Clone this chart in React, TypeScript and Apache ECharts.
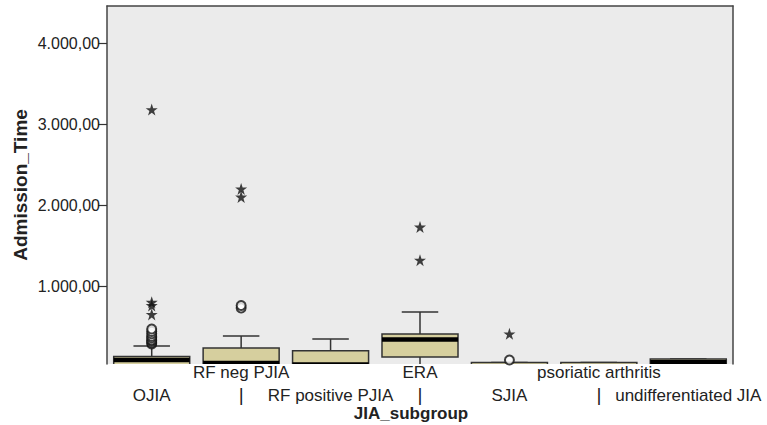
import React, { useEffect, useRef } from "react";
import * as echarts from "echarts";

const categories = [
  "OJIA",
  "RF neg PJIA",
  "RF positive PJIA",
  "ERA",
  "SJIA",
  "psoriatic arthritis",
  "undifferentiated JIA",
];

// [lower whisker, Q1, median, Q3, upper whisker]
const boxStats = [
  [0, 0, 85, 130, 259],
  [0, 0, 50, 235, 383],
  [0, 0, 30, 200, 345],
  [0, 123, 340, 408, 680],
  [0, 0, 0, 55, 55],
  [0, 0, 0, 55, 55],
  [0, 0, 60, 100, 100],
];

// outliers: [category index, value]
const circleOutliers = [
  [0, 285], [0, 300], [0, 320], [0, 335], [0, 360], [0, 380], [0, 410], [0, 440], [0, 470],
  [1, 730], [1, 760],
  [4, 86],
];
const starOutliers = [
  [0, 650], [0, 760], [0, 800], [0, 3180],
  [1, 2100], [1, 2200],
  [3, 1320], [3, 1730],
  [4, 410],
];

const yTicks = [1000, 2000, 3000, 4000];

const STAR = "path://M12,0 L14.8,8.6 L23.4,8.6 L16.4,13.9 L19,22.5 L12,17.2 L5,22.5 L7.6,13.9 L0.6,8.6 L9.2,8.6 Z";

function fmt(v: number) {
  const intPart = Math.round(v).toString().replace(/\B(?=(\d{3})+(?!\d))/g, ".");
  return intPart + ",00";
}

export default function App() {
  const ref = useRef<HTMLDivElement>(null);
  useEffect(() => {
    if (!ref.current) return;
    const chart = echarts.init(ref.current, null, { renderer: "svg" });
    const font = "Liberation Sans, Arial, sans-serif";
    chart.setOption({
      animation: false,
      backgroundColor: "#ffffff",
      grid: {
        left: 107,
        right: 34,
        top: 6,
        bottom: 61,
        outerBoundsMode: "none",
        containLabel: false,
        show: true,
        backgroundColor: "#ebebeb",
        borderWidth: 0,
      },
      xAxis: [
        {
          type: "category",
          data: categories,
          position: "bottom",
          axisLine: { show: false },
          axisTick: { show: false },
          splitLine: { show: false },
          axisLabel: {
            interval: 0,
            hideOverlap: false,
            margin: -3,
            fontFamily: font,
            fontSize: 17,
            color: "#222",
            formatter: (v: string, i: number) =>
              i % 2 === 1 ? `{a|${v}}\n{b||}` : `{a| }\n{a|${v}}`,
            rich: {
              a: { fontFamily: font, fontSize: 17, lineHeight: 23, color: "#222" },
              b: { fontFamily: font, fontSize: 19, lineHeight: 21, color: "#222" },
            },
          },
          name: "JIA_subgroup",
          nameLocation: "middle",
          nameGap: 41,
          nameMoveOverlap: false,
          nameTextStyle: {
            fontFamily: font,
            fontSize: 17,
            fontWeight: "bold",
            color: "#222",
            padding: [0, 18, 0, 0],
          },
        },
        {
          type: "category",
          data: categories,
          position: "top",
          axisLine: { show: true, lineStyle: { color: "#444", width: 1.5 } },
          axisTick: { show: false },
          axisLabel: { show: false },
        },
      ],
      yAxis: [
        {
          type: "value",
          min: 37,
          max: 4460,
          minInterval: 1000,
          maxInterval: 1000,
          splitLine: { show: false },
          axisLine: { show: true, lineStyle: { color: "#444", width: 1.5 } },
          axisTick: {
            show: true,
            length: 9,
            customValues: yTicks,
            lineStyle: { color: "#333", width: 1.2 },
          },
          axisLabel: {
            margin: 7,
            customValues: yTicks,
            fontFamily: font,
            fontSize: 16,
            color: "#222",
            formatter: (v: number) => (v % 1000 === 0 ? fmt(v) : ""),
          },
          name: "Admission_Time",
          nameLocation: "middle",
          nameGap: 77,
          nameMoveOverlap: false,
          nameTextStyle: {
            fontFamily: font,
            fontSize: 19,
            fontWeight: "bold",
            color: "#222",
          },
        },
        {
          type: "value",
          min: 37,
          max: 4460,
          position: "right",
          splitLine: { show: false },
          axisLine: { show: true, lineStyle: { color: "#444", width: 1.5 } },
          axisTick: { show: false },
          axisLabel: { show: false },
        },
      ],
      series: [
        {
          type: "custom",
          clip: true,
          data: boxStats.map((s, i) => [i, ...s]),
          encode: { x: 0, y: [1, 2, 3, 4, 5] },
          renderItem: (params: any, api: any) => {
            const idx = api.value(0);
            const lo = api.value(1);
            const q1 = api.value(2);
            const med = api.value(3);
            const q3 = api.value(4);
            const hi = api.value(5);
            const x = api.coord([idx, q1])[0];
            const yq1 = api.coord([idx, q1])[1];
            const yq3 = api.coord([idx, q3])[1];
            const ymed = api.coord([idx, med])[1];
            const ylo = api.coord([idx, lo])[1];
            const yhi = api.coord([idx, hi])[1];
            const band = api.size([1, 0])[0];
            const bw = band * 0.85;
            const cw = bw * 0.48;
            const ls = { stroke: "#333", lineWidth: 1.5 };
            return {
              type: "group",
              children: [
                { type: "line", shape: { x1: x, y1: yq3, x2: x, y2: yhi }, style: ls },
                { type: "line", shape: { x1: x - cw / 2, y1: yhi, x2: x + cw / 2, y2: yhi }, style: ls },
                { type: "line", shape: { x1: x, y1: yq1, x2: x, y2: ylo }, style: ls },
                { type: "line", shape: { x1: x - cw / 2, y1: ylo, x2: x + cw / 2, y2: ylo }, style: ls },
                {
                  type: "rect",
                  shape: { x: x - bw / 2, y: yq3, width: bw, height: yq1 - yq3 },
                  style: { fill: "#d6cf9e", stroke: "#333", lineWidth: 1.5 },
                },
                {
                  type: "line",
                  shape: { x1: x - bw / 2, y1: ymed, x2: x + bw / 2, y2: ymed },
                  style: { stroke: "#000", lineWidth: 4.5 },
                },
              ],
            };
          },
          z: 2,
        },
        {
          type: "scatter",
          data: circleOutliers,
          symbol: "emptyCircle",
          symbolSize: 9,
          itemStyle: { color: "#111", borderColor: "#111", borderWidth: 2.2 },
          z: 3,
        },
        {
          type: "scatter",
          data: starOutliers,
          symbol: STAR,
          symbolSize: 12,
          itemStyle: { color: "#111" },
          z: 3,
        },
      ],
    });
    return () => chart.dispose();
  }, []);
  return (
    <div
      ref={ref}
      style={{ position: "fixed", left: 0, top: 0, width: 767, height: 425 }}
    />
  );
}
